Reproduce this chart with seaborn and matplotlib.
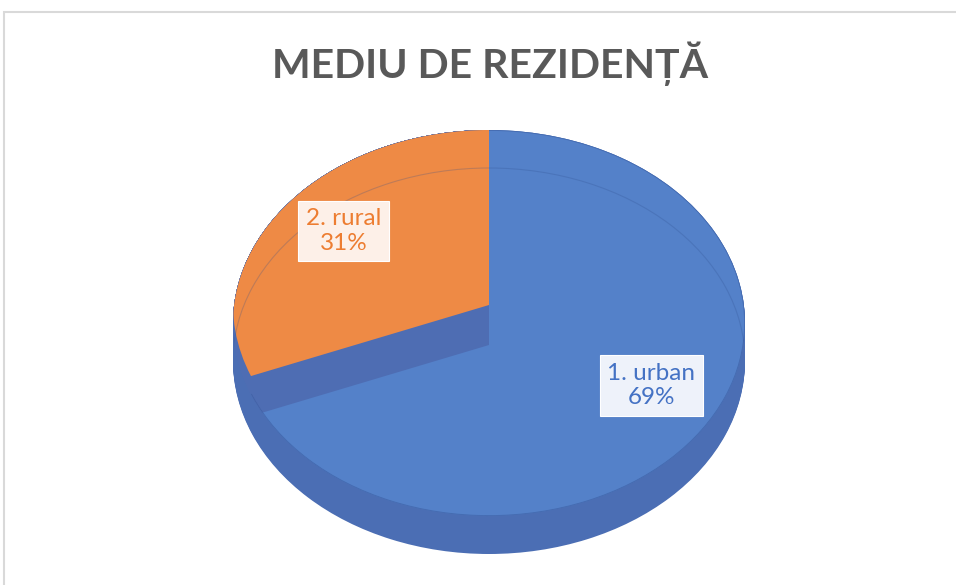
import numpy as np
import matplotlib
matplotlib.use("Agg")
import matplotlib.pyplot as plt
import seaborn as sns
from matplotlib.patches import Rectangle
from matplotlib.path import Path

# date
categorii = ["1. urban", "2. rural"]
procente = [69, 31]

sns.set_theme(style="white")
plt.rcParams['font.family'] = ['Lato', 'DejaVu Sans']

culori = sns.color_palette(["#5481c9", "#ee8a45"])
albastru, portocaliu = culori[0], culori[1]
albastru_fata = "#4e6db3"
albastru_lateral = "#4b6eb4"
text_culori = ["#4472c4", "#ed7d31"]
fundal_etichete = ["#eef2fa", "#fdf0e8"]

W, H = 956, 585
fig = plt.figure(figsize=(W / 100, H / 100), dpi=100)
ax = fig.add_axes([0, 0, 1, 1])

# geometria elipsei (pixeli)
cx, cy, a, b = 489, 323, 256, 193
adancime = 38 / b
ridicare = 18 / b
coborare = 22 / b
fara_margine = dict(linewidth=0, edgecolor="none", antialiased=True)
cerc = Path.unit_circle()


def decupeaza(patch, cale, transformare=None):
    # pie() pune clip_on=False pe felii, asa ca il reactivam
    patch.set_clip_on(True)
    if transformare is None:
        patch.set_clip_path(cale)
    else:
        patch.set_clip_path(cale, transformare)


# peretele lateral: pie-uri suprapuse
for dy in np.linspace(-adancime, 0, 40):
    ax.pie([1], colors=[albastru_lateral], center=(0, dy), radius=1,
           wedgeprops=fara_margine)

# suprafata de sus
baza, _ = ax.pie(procente, colors=[albastru, albastru], startangle=90,
                 counterclock=False, center=(0, 0), radius=1,
                 wedgeprops=fara_margine)

# fata interioara (banda albastra inchisa sub felia rural)
for dy in np.linspace(-coborare, ridicare, 30):
    felii, _ = ax.pie(procente, colors=["none", albastru_fata], startangle=90,
                      counterclock=False, center=(0, dy), radius=1,
                      wedgeprops=fara_margine)
    for f in felii:
        decupeaza(f, cerc, ax.transData)

# felia rural ridicata
felii, _ = ax.pie(procente, colors=["none", portocaliu], startangle=90,
                  counterclock=False, center=(0, ridicare), radius=1,
                  wedgeprops=fara_margine)
for f in felii:
    decupeaza(f, cerc, ax.transData)

# linii fine: conturul de jos vazut prin suprafata si marginea de sus
linii, _ = ax.pie([1], center=(0, -adancime), radius=1,
                  wedgeprops=dict(fill=False, edgecolor="#2f4f8f", linewidth=0.8, alpha=0.25))
decupeaza(linii[0], cerc, ax.transData)
margine, _ = ax.pie([1], center=(0, 0), radius=1,
                    wedgeprops=dict(fill=False, edgecolor="#3a5ca0", linewidth=1.2, alpha=0.6))
decupeaza(margine[0], baza[0])

# etichete
etichete = [f"{c}\n{p}%" for c, p in zip(categorii, procente)]
_, texte = ax.pie(procente, labels=etichete, colors=["none", "none"], startangle=90,
                  counterclock=False, center=(0, 0), radius=1, labeldistance=0.7,
                  wedgeprops=fara_margine)
for i, t in enumerate(texte):
    t.set_ha("center")
    t.set_multialignment("center")
    t.set_fontsize(17.5)
    t.set_color(text_culori[i])
    t.set_linespacing(1.2)
    t.set_bbox(dict(boxstyle="square,pad=0.32", facecolor=fundal_etichete[i],
                    edgecolor="white", linewidth=0.8))
    x, y = t.get_position()
    if i == 1:
        t.set_position((x + 0.01, y + ridicare - 0.01))
    else:
        t.set_position((x + 0.055, y + 0.07))

ax.set_aspect("auto")
ax.set_xlim(-cx / a, (W - cx) / a)
ax.set_ylim(-(H - cy) / b, cy / b)
ax.axis("off")

fig.text(490 / W, 1 - 64 / H, "MEDIU DE REZIDENȚĂ", fontsize=29.5, fontweight="bold",
         color="#595959", ha="center", va="center")

fig.patches.append(Rectangle((4 / W, -0.1), 1.0, (1 - 12 / H) + 0.1, transform=fig.transFigure,
                             fill=False, edgecolor="#d9d9d9", linewidth=1.5))

fig.savefig("out.png", dpi=100)
